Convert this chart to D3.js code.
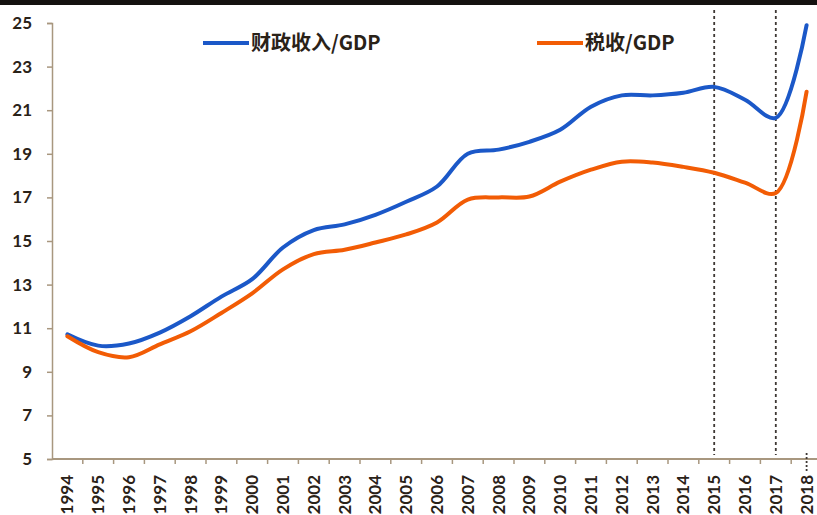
<!DOCTYPE html>
<html>
<head>
<meta charset="utf-8">
<script src="https://cdn.jsdelivr.net/npm/d3@7"></script>
<style>
  html, body { margin: 0; padding: 0; background: #fff; }
  svg { display: block; }
</style>
</head>
<body>
<svg id="chart" width="817" height="515"></svg>
<script>
// Years on the category axis
const years = ["1994","1995","1996","1997","1998","1999","2000","2001","2002","2003","2004","2005",
  "2006","2007","2008","2009","2010","2011","2012","2013","2014","2015","2016","2017","2018"];

// 财政收入/GDP (%)
const revenueRatio = [10.72, 10.2, 10.3, 10.8, 11.55, 12.45, 13.25, 14.7, 15.5, 15.76, 16.2, 16.8,
  17.5, 19.0, 19.19, 19.55, 20.1, 21.16, 21.68, 21.68, 21.8, 22.07, 21.48, 20.65, 24.9];

// 税收/GDP (%)
const taxRatio = [10.63, 9.9, 9.67, 10.26, 10.86, 11.7, 12.6, 13.7, 14.4, 14.6, 14.93, 15.3,
  15.85, 16.9, 17.0, 17.04, 17.72, 18.27, 18.64, 18.6, 18.4, 18.13, 17.68, 17.2, 21.85];

const yTicks = [5, 7, 9, 11, 13, 15, 17, 19, 21, 23, 25];
const markedYears = ["2015", "2017"];

const seriesNames = ["财政收入/GDP", "税收/GDP"];
const seriesColors = ["#1b58c8", "#f25c05"];

(function () {
  const svg = d3.select("#chart");
  const W = 817;
  const m = { left: 52, right: 822, top: 23, bottom: 459 };

  const x = d3.scaleBand().domain(years).range([m.left, m.right]);
  const y = d3.scaleLinear().domain([5, 25]).range([m.bottom, m.top]);
  const cx = d => x(d) + x.bandwidth() / 2;

  // dark band along the top edge
  svg.append("rect").attr("x", 0).attr("y", 0).attr("width", W).attr("height", 5).attr("fill", "#141210");

  const axisColor = "#a8977f";
  const labelFont = "Lato, 'Open Sans', sans-serif";

  // y axis
  const yAxis = svg.append("g").attr("transform", `translate(${m.left},0)`)
    .call(d3.axisLeft(y).tickValues(yTicks).tickSize(5).tickPadding(15));
  yAxis.select(".domain").attr("stroke", axisColor).attr("stroke-width", 1.5);
  yAxis.selectAll(".tick line").attr("stroke", axisColor).attr("stroke-width", 1.5);
  yAxis.selectAll(".tick text")
    .attr("fill", "#2a2218")
    .style("font-family", labelFont)
    .style("font-weight", "bold")
    .style("font-size", "17px");

  // x axis: ticks on category boundaries
  const xg = svg.append("g").attr("transform", `translate(0,${m.bottom})`);
  xg.append("line").attr("x1", m.left).attr("x2", W).attr("stroke", axisColor).attr("stroke-width", 2);
  xg.selectAll("line.tk").data(years.slice(1)).join("line").attr("class", "tk")
    .attr("x1", d => x(d)).attr("x2", d => x(d)).attr("y1", 0).attr("y2", 5)
    .attr("stroke", axisColor).attr("stroke-width", 1.5);
  xg.selectAll("text").data(years).join("text")
    .attr("transform", d => `translate(${cx(d) + 6},16) rotate(-90)`)
    .attr("text-anchor", "end")
    .attr("fill", "#2a2218")
    .style("font-family", labelFont)
    .style("font-weight", "bold")
    .style("font-size", "17px")
    .text(d => d);

  // dashed year markers
  svg.selectAll("line.mark").data(markedYears).join("line").attr("class", "mark")
    .attr("x1", d => cx(d)).attr("x2", d => cx(d))
    .attr("y1", 10).attr("y2", m.bottom - 4)
    .attr("stroke", "#3e3834").attr("stroke-width", 1.8).attr("stroke-dasharray", "3,3");
  svg.append("line")
    .attr("x1", cx("2018")).attr("x2", cx("2018"))
    .attr("y1", m.bottom - 6).attr("y2", m.bottom + 14)
    .attr("stroke", "#3e3834").attr("stroke-width", 1.8).attr("stroke-dasharray", "2,2");

  // lines
  const line = d3.line().x((d, i) => cx(years[i])).y(d => y(d)).curve(d3.curveCatmullRom.alpha(0.5));
  [revenueRatio, taxRatio].forEach((vals, k) => {
    svg.append("path").datum(vals)
      .attr("fill", "none")
      .attr("stroke", seriesColors[k])
      .attr("stroke-width", 4)
      .attr("stroke-linejoin", "round")
      .attr("stroke-linecap", "round")
      .attr("d", line);
  });

  // legend
  const legendPos = [{ x: 203, y: 43 }, { x: 537, y: 43 }];
  seriesNames.forEach((name, k) => {
    const g = svg.append("g").attr("transform", `translate(${legendPos[k].x},${legendPos[k].y})`);
    g.append("line").attr("x1", 0).attr("x2", 46).attr("y1", 0).attr("y2", 0)
      .attr("stroke", seriesColors[k]).attr("stroke-width", 4);
    g.append("text").attr("x", 48).attr("y", 7)
      .attr("fill", "#2a2218")
      .style("font-family", "'Noto Sans CJK SC', sans-serif")
      .style("font-weight", "bold")
      .style("font-size", "20px")
      .text(name);
  });
})();
</script>
</body>
</html>
